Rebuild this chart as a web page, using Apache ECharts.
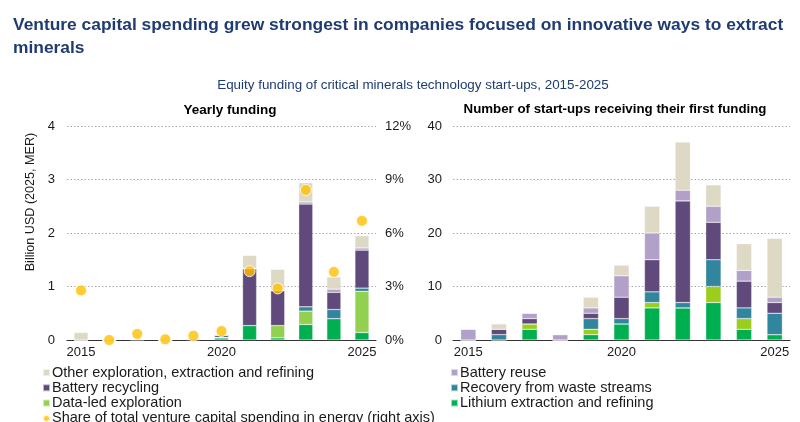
<!DOCTYPE html>
<html>
<head>
<meta charset="utf-8">
<script src="https://cdn.jsdelivr.net/npm/echarts@6/dist/echarts.min.js"></script>
<style>
  html, body { margin: 0; padding: 0; background: #fff; }
  #chart { width: 800px; height: 422px; }
</style>
</head>
<body>
<div id="chart"></div>
<script>
// years shown on both panels
var years = ['2015', '2016', '2017', '2018', '2019', '2020', '2021', '2022', '2023', '2024', '2025'];

// yearly funding, billion USD (2025, MER)
var fundLithium   = [0, 0, 0, 0, 0.005, 0.04, 0.27, 0.04, 0.29, 0.40, 0.14];
var fundDataLed   = [0, 0, 0.01, 0, 0.02, 0, 0, 0.23, 0.25, 0, 0.77];
var fundRecovery  = [0, 0, 0, 0, 0, 0.01, 0, 0, 0.08, 0.17, 0.06];
var fundRecycling = [0, 0, 0, 0, 0, 0.04, 1.06, 0.65, 1.92, 0.32, 0.71];
var fundReuse     = [0, 0, 0, 0, 0, 0, 0.01, 0.01, 0.04, 0.06, 0.04];
var fundOther     = [0.14, 0, 0.005, 0, 0.005, 0, 0.24, 0.39, 0.36, 0.23, 0.23];
// share of total VC spending in energy (right axis)
var vcShare = [0.0278, 0, 0.0034, 0.0004, 0.0024, 0.0050, 0.0386, 0.0289, 0.0841, 0.0382, 0.0668];

// number of start-ups receiving their first funding
var cntLithium   = [0, 0, 2, 0, 1, 3, 6, 6, 7, 2, 1];
var cntDataLed   = [0, 0, 1, 0, 1, 0, 1, 0, 3, 2, 0];
var cntRecovery  = [0, 1, 0, 0, 2, 1, 2, 1, 5, 2, 4];
var cntRecycling = [0, 1, 1, 0, 1, 4, 6, 19, 7, 5, 2];
var cntReuse     = [2, 0, 1, 1, 1, 4, 5, 2, 3, 2, 1];
var cntOther     = [0, 1, 0, 0, 2, 2, 5, 9, 4, 5, 11];

var N_OTHER = 'Other exploration, extraction and refining';
var N_REUSE = 'Battery reuse';
var N_RECYC = 'Battery recycling';
var N_RECOV = 'Recovery from waste streams';
var N_DATA  = 'Data-led exploration';
var N_LITH  = 'Lithium extraction and refining';
var N_SHARE = 'Share of total venture capital spending in energy (right axis)';

var colors = {};
colors[N_OTHER] = '#ddd9c4';
colors[N_REUSE] = '#b1a0c7';
colors[N_RECYC] = '#5f4a7b';
colors[N_RECOV] = '#31859c';
colors[N_DATA]  = '#92d050';
colors[N_LITH]  = '#00b050';

var font = 'Liberation Sans, Arial, sans-serif';

function bar(name, data, xi, yi, col) {
  return {
    name: name, type: 'bar', stack: 's' + xi,
    xAxisIndex: xi, yAxisIndex: yi,
    barWidth: '50%',
    itemStyle: { color: col || colors[name], borderColor: 'rgba(255,255,255,0.6)', borderWidth: 0.5 },
    data: data
  };
}

function catAxis(gi) {
  return {
    type: 'category', gridIndex: gi, data: years,
    axisLine: { lineStyle: { color: '#333', width: 1.2 } },
    axisTick: { show: false },
    axisLabel: {
      color: '#1a1a1a', fontSize: 13, fontFamily: font, margin: 6,
      interval: function (i) { return i % 5 === 0; }
    }
  };
}

function legendCol(x, items) {
  return {
    orient: 'vertical', left: x, top: 365, height: 80, itemGap: 0.3,
    itemWidth: 7, itemHeight: 7, padding: 0,
    textStyle: { color: '#1a1a1a', fontSize: 14.5, fontFamily: font, lineHeight: 15, padding: [0, 0, 0, -3] },
    data: items
  };
}

var gridLine = { show: true, lineStyle: { color: '#aaa', type: [1.5, 2], width: 1 } };

var chartDom = document.getElementById('chart');
var myChart = echarts.init(chartDom);
var option = {
  animation: false,
  title: [
    {
      text: 'Venture capital spending grew strongest in companies focused on innovative ways to extract\nminerals',
      left: 8, top: 9,
      textStyle: { color: '#1f3b73', fontSize: 17.4, fontWeight: 'bold', fontFamily: font, lineHeight: 23 }
    },
    {
      text: 'Equity funding of critical minerals technology start-ups, 2015-2025',
      left: 408, top: 74, textAlign: 'center',
      textStyle: { color: '#1f3b73', fontSize: 13.4, fontWeight: 'normal', fontFamily: font }
    },
    {
      text: 'Yearly funding', left: 225, top: 98, textAlign: 'center',
      textStyle: { color: '#000', fontSize: 13.5, fontWeight: 'bold', fontFamily: font }
    },
    {
      text: 'Number of start-ups receiving their first funding', left: 610, top: 98, textAlign: 'center',
      textStyle: { color: '#000', fontSize: 13.3, fontWeight: 'bold', fontFamily: font }
    }
  ],
  graphic: [
    {
      type: 'text', x: 31, y: 202, rotation: Math.PI / 2,
      style: {
        text: 'Billion USD (2025, MER)', fill: '#1a1a1a', font: '12.6px ' + font,
        align: 'center', verticalAlign: 'middle'
      }
    }
  ],
  legend: [
    legendCol(42, [
      { name: N_OTHER, icon: 'rect' },
      { name: N_RECYC, icon: 'rect' },
      { name: N_DATA, icon: 'rect' },
      { name: N_SHARE, icon: 'circle' }
    ]),
    legendCol(450, [
      { name: N_REUSE, icon: 'rect' },
      { name: N_RECOV, icon: 'rect' },
      { name: N_LITH, icon: 'rect' }
    ])
  ],
  grid: [
    { left: 67, right: 424, top: 126, bottom: 82 },
    { left: 453, right: 10, top: 126, bottom: 82 }
  ],
  xAxis: [catAxis(0), catAxis(1)],
  yAxis: [
    {
      type: 'value', gridIndex: 0, min: 0, max: 4, interval: 1,
      axisLine: { show: false }, axisTick: { show: false },
      axisLabel: { color: '#1a1a1a', fontSize: 13, fontFamily: font, margin: 12 },
      splitLine: gridLine
    },
    {
      type: 'value', gridIndex: 0, min: 0, max: 0.12, interval: 0.03, position: 'right',
      axisLine: { show: false }, axisTick: { show: false },
      axisLabel: {
        color: '#1a1a1a', fontSize: 13, fontFamily: font, margin: 9,
        formatter: function (v) { return Math.round(v * 100) + '%'; }
      },
      splitLine: { show: false }
    },
    {
      type: 'value', gridIndex: 1, min: 0, max: 40, interval: 10,
      axisLine: { show: false }, axisTick: { show: false },
      axisLabel: { color: '#1a1a1a', fontSize: 13, fontFamily: font, margin: 11 },
      splitLine: gridLine
    }
  ],
  series: [
    bar(N_LITH, fundLithium, 0, 0),
    bar(N_DATA, fundDataLed, 0, 0),
    bar(N_RECOV, fundRecovery, 0, 0),
    bar(N_RECYC, fundRecycling, 0, 0),
    bar(N_REUSE, fundReuse, 0, 0),
    bar(N_OTHER, fundOther, 0, 0),
    {
      name: N_SHARE, type: 'scatter', xAxisIndex: 0, yAxisIndex: 1,
      symbolSize: 11, z: 5,
      itemStyle: { color: '#ffc000', borderColor: '#fff', borderWidth: 1 },
      data: vcShare
    },
    bar(N_LITH, cntLithium, 1, 2),
    bar(N_DATA, cntDataLed, 1, 2, '#9acd1c'),
    bar(N_RECOV, cntRecovery, 1, 2),
    bar(N_RECYC, cntRecycling, 1, 2),
    bar(N_REUSE, cntReuse, 1, 2),
    bar(N_OTHER, cntOther, 1, 2)
  ]
};
myChart.setOption(option);
</script>
</body>
</html>
